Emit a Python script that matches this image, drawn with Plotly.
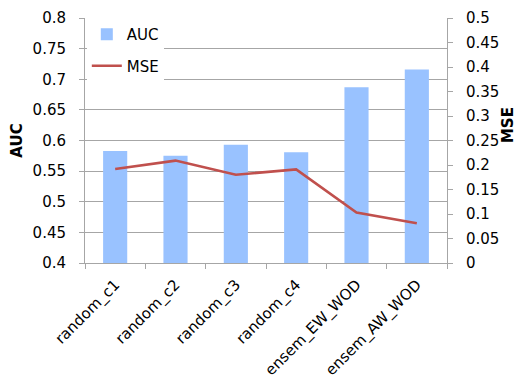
import plotly.graph_objects as go

# Model names and their scores
models = ["random_c1", "random_c2", "random_c3", "random_c4", "ensem_EW_WOD", "ensem_AW_WOD"]
auc = [0.583, 0.575, 0.593, 0.581, 0.687, 0.716]
mse = [0.192, 0.209, 0.180, 0.191, 0.103, 0.081]

auc_ticks = [0.4, 0.45, 0.5, 0.55, 0.6, 0.65, 0.7, 0.75, 0.8]
auc_labels = ["0.4", "0.45", "0.5", "0.55", "0.6", "0.65", "0.7", "0.75", "0.8"]
mse_ticks = [0, 0.05, 0.1, 0.15, 0.2, 0.25, 0.3, 0.35, 0.4, 0.45, 0.5]
mse_labels = ["0", "0.05", "0.1", "0.15", "0.2", "0.25", "0.3", "0.35", "0.4", "0.45", "0.5"]

FONT = "DejaVu Sans"
GRID = "#A6A6A6"

fig = go.Figure()
fig.add_trace(go.Bar(
    x=models, y=auc, name="AUC", marker_color="#99C2FF",
    marker_line_width=0, legendgroup="a", yaxis="y",
))
fig.add_trace(go.Scatter(
    x=models, y=mse, name="MSE", mode="lines",
    line=dict(color="#C0504D", width=2.6), legendgroup="b", yaxis="y2",
))

# Right-hand axis title, placed a little above the axis midpoint
fig.add_annotation(
    text="<b>MSE</b>", xref="paper", yref="paper", x=1, y=0.563,
    xanchor="center", yanchor="middle",
    xshift=61, showarrow=False, textangle=-90,
    font=dict(family=FONT, size=15, color="#000000"),
)

fig.update_layout(
    width=524, height=380,
    margin=dict(l=85, r=77, t=18, b=117),
    paper_bgcolor="white", plot_bgcolor="white",
    font=dict(family=FONT, size=15, color="#000000"),
    bargap=0.6,
    showlegend=True,
    legend=dict(
        x=0.005, y=1.0, xanchor="left", yanchor="top",
        bgcolor="white", font=dict(size=15),
        traceorder="grouped", tracegroupgap=9,
        itemwidth=30,
    ),
    xaxis=dict(
        tickangle=-45, showline=True, linecolor=GRID, linewidth=1,
        ticks="outside", ticklen=5, tickcolor=GRID,
        tickson="boundaries", showgrid=False, automargin=False,
        tickfont=dict(size=15), ticklabelstandoff=6,
    ),
    yaxis=dict(
        range=[0.4, 0.8], tickvals=auc_ticks, ticktext=auc_labels,
        showgrid=True, gridcolor=GRID, gridwidth=1,
        showline=True, linecolor=GRID, linewidth=1,
        ticks="outside", ticklen=5, tickcolor=GRID,
        zeroline=False, ticklabelstandoff=10, automargin=False,
        title=dict(text="<b>AUC</b>", font=dict(size=15), standoff=6),
    ),
    yaxis2=dict(
        range=[0, 0.5], tickvals=mse_ticks, ticktext=mse_labels,
        overlaying="y", side="right", showgrid=False,
        showline=True, linecolor=GRID, linewidth=1,
        ticks="outside", ticklen=5, tickcolor=GRID,
        zeroline=False, ticklabelstandoff=10, automargin=False,
    ),
)

fig.write_html("out.html")
